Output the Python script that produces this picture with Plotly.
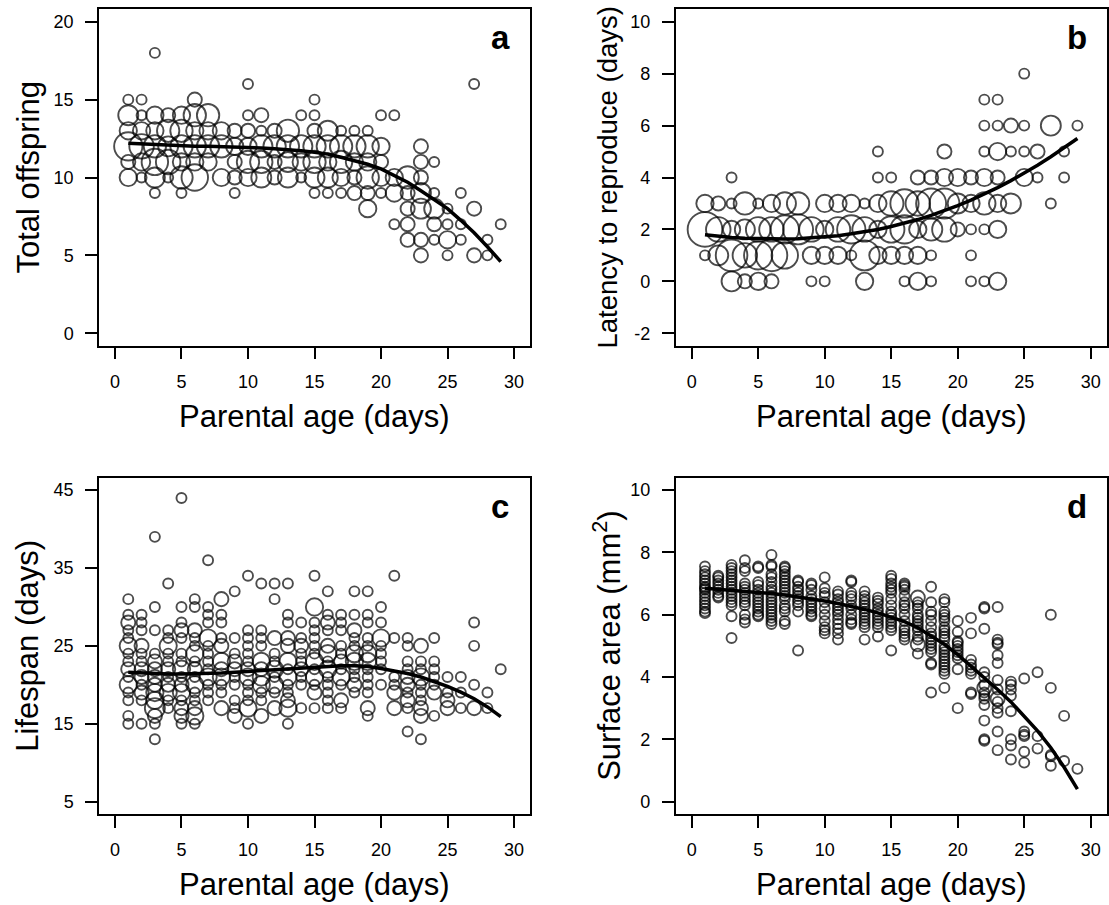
import math
import plotly.graph_objects as go

W, H = 1109, 905
FONT = "Liberation Sans, Arial, Helvetica, sans-serif"

# ---------------- data ----------------
days = list(range(1, 30))
x_ticks = [0, 5, 10, 15, 20, 25, 30]

# (parental age, value, number of individuals)
offspring_obs = [
    (1, 15, 1), (1, 14, 4), (1, 13, 3), (1, 12, 8), (1, 11, 2), (1, 10, 3),
    (2, 15, 1), (2, 14, 1), (2, 13, 3), (2, 12, 6), (2, 11, 3), (2, 10, 1),
    (3, 18, 1), (3, 14, 3), (3, 13, 3), (3, 12, 5), (3, 11, 7), (3, 10, 4), (3, 9, 1),
    (4, 14, 2), (4, 13, 5), (4, 12, 4), (4, 11, 6), (4, 10, 1),
    (5, 14, 3), (5, 13, 5), (5, 12, 5), (5, 11, 3), (5, 10, 5), (5, 9, 1),
    (6, 15, 2), (6, 14, 5), (6, 13, 3), (6, 12, 5), (6, 11, 3), (6, 10, 7),
    (7, 14, 5), (7, 13, 3), (7, 12, 5), (7, 11, 3),
    (8, 13, 3), (8, 12, 5), (8, 10, 3),
    (9, 13, 2), (9, 12, 3), (9, 11, 2), (9, 10, 2), (9, 9, 1),
    (10, 16, 1), (10, 14, 1), (10, 13, 2), (10, 12, 3), (10, 11, 5), (10, 10, 3),
    (11, 14, 2), (11, 13, 1), (11, 12, 5), (11, 11, 5), (11, 10, 4),
    (12, 13, 2), (12, 12, 5), (12, 11, 2), (12, 10, 2),
    (13, 13, 5), (13, 12, 5), (13, 11, 4), (13, 10, 4),
    (14, 14, 1), (14, 12, 5), (14, 11, 3), (14, 10, 1),
    (15, 15, 1), (15, 14, 1), (15, 13, 2), (15, 12, 5), (15, 11, 5), (15, 10, 4), (15, 9, 1),
    (16, 13, 4), (16, 12, 5), (16, 11, 3), (16, 10, 4), (16, 9, 1),
    (17, 13, 1), (17, 12, 5), (17, 11, 5), (17, 10, 3), (17, 9, 1),
    (18, 13, 1), (18, 12, 5), (18, 11, 3), (18, 10, 2), (18, 9, 2),
    (19, 13, 1), (19, 12, 5), (19, 11, 3), (19, 10, 5), (19, 9, 2), (19, 8, 3),
    (20, 14, 1), (20, 12, 3), (20, 11, 2), (20, 10, 3), (20, 9, 1),
    (21, 14, 1), (21, 10, 3), (21, 9, 3), (21, 7, 1),
    (22, 10, 5), (22, 9, 2), (22, 8, 2), (22, 7, 2), (22, 6, 2),
    (23, 12, 2), (23, 11, 2), (23, 10, 2), (23, 9, 4), (23, 8, 4), (23, 6, 2), (23, 5, 2),
    (24, 11, 1), (24, 9, 1), (24, 8, 4), (24, 7, 2), (24, 6, 1),
    (25, 8, 1), (25, 7, 1), (25, 6, 3), (25, 5, 1),
    (26, 9, 1), (26, 7, 1), (26, 6, 1),
    (27, 16, 1), (27, 8, 2), (27, 5, 2),
    (28, 6, 1), (28, 5, 1),
    (29, 7, 1),
]
offspring_fit = [12.2, 12.15, 12.1, 12.05, 12.02, 12.0, 12.0, 11.98, 11.97, 11.95,
                 11.9, 11.85, 11.8, 11.72, 11.62, 11.5, 11.3, 11.1, 10.85, 10.55,
                 10.15, 9.7, 9.15, 8.6, 8.0, 7.25, 6.45, 5.55, 4.6]

latency_obs = [
    (1, 3, 3), (1, 2, 12), (1, 1, 1),
    (2, 3, 2), (2, 2, 6), (2, 1, 4),
    (3, 4, 1), (3, 3, 1), (3, 2, 3), (3, 1, 10), (3, 0, 4),
    (4, 3, 5), (4, 2, 4), (4, 1, 6), (4, 0, 2),
    (5, 3, 1), (5, 2, 6), (5, 1, 8), (5, 0, 3),
    (6, 3, 3), (6, 2, 6), (6, 1, 10), (6, 0, 2),
    (7, 3, 5), (7, 2, 8), (7, 1, 7),
    (8, 3, 5), (8, 2, 9),
    (9, 2, 6), (9, 1, 3), (9, 0, 1),
    (10, 3, 3), (10, 2, 3), (10, 1, 3), (10, 0, 1),
    (11, 3, 3), (11, 2, 6), (11, 1, 3),
    (12, 3, 3), (12, 2, 8), (12, 1, 1),
    (13, 3, 1), (13, 2, 6), (13, 1, 9), (13, 0, 3),
    (14, 5, 1), (14, 4, 1), (14, 3, 3), (14, 2, 3), (14, 1, 3),
    (15, 4, 1), (15, 3, 6), (15, 2, 7), (15, 1, 3),
    (16, 3, 8), (16, 2, 8), (16, 1, 3), (16, 0, 1),
    (17, 4, 2), (17, 3, 6), (17, 2, 3), (17, 1, 3), (17, 0, 3),
    (18, 4, 2), (18, 3, 9), (18, 2, 5), (18, 1, 1), (18, 0, 1),
    (19, 5, 2), (19, 4, 3), (19, 3, 9), (19, 2, 6),
    (20, 4, 3), (20, 3, 4), (20, 2, 2),
    (21, 4, 2), (21, 3, 3), (21, 2, 1), (21, 1, 1), (21, 0, 1),
    (22, 7, 1), (22, 6, 1), (22, 5, 1), (22, 4, 3), (22, 3, 5), (22, 2, 1), (22, 0, 1),
    (23, 7, 1), (23, 6, 1), (23, 5, 3), (23, 4, 2), (23, 3, 3), (23, 2, 3), (23, 0, 3),
    (24, 6, 2), (24, 5, 1), (24, 3, 4),
    (25, 8, 1), (25, 6, 1), (25, 5, 1), (25, 4, 3),
    (26, 5, 2), (26, 4, 1),
    (27, 6, 4), (27, 3, 1),
    (28, 5, 1), (28, 4, 1),
    (29, 6, 1),
]
latency_fit = [1.79, 1.73, 1.69, 1.66, 1.64, 1.63, 1.63, 1.64, 1.67, 1.71,
               1.76, 1.83, 1.91, 2.0, 2.11, 2.24, 2.38, 2.54, 2.72, 2.92,
               3.13, 3.36, 3.61, 3.88, 4.17, 4.47, 4.8, 5.14, 5.5]

lifespan_obs = [
    (1, 31, 1), (1, 29, 1), (1, 28, 2), (1, 27, 1), (1, 26, 1), (1, 25, 3), (1, 24, 1), (1, 23, 1),
    (1, 22, 2), (1, 21, 1), (1, 20, 3), (1, 19, 1), (1, 18, 1), (1, 16, 1), (1, 15, 1),
    (2, 29, 1), (2, 28, 1), (2, 27, 1), (2, 25, 2), (2, 24, 1), (2, 23, 1), (2, 22, 2), (2, 21, 2),
    (2, 20, 1), (2, 19, 2), (2, 18, 1), (2, 15, 1),
    (3, 39, 1), (3, 30, 1), (3, 27, 1), (3, 24, 1), (3, 23, 2), (3, 22, 2), (3, 21, 2), (3, 20, 2),
    (3, 19, 3), (3, 18, 3), (3, 17, 4), (3, 16, 2), (3, 15, 1), (3, 13, 1),
    (4, 33, 1), (4, 27, 1), (4, 26, 1), (4, 25, 3), (4, 24, 1), (4, 23, 1), (4, 22, 2), (4, 21, 1),
    (4, 20, 2), (4, 19, 3), (4, 18, 1), (4, 17, 1),
    (5, 44, 1), (5, 30, 1), (5, 28, 1), (5, 27, 2), (5, 26, 1), (5, 24, 1), (5, 23, 1), (5, 22, 3),
    (5, 21, 1), (5, 20, 2), (5, 19, 3), (5, 18, 1), (5, 17, 2), (5, 16, 2), (5, 15, 1),
    (6, 31, 1), (6, 30, 1), (6, 27, 2), (6, 26, 1), (6, 25, 1), (6, 24, 3), (6, 23, 1), (6, 22, 2),
    (6, 21, 1), (6, 20, 3), (6, 19, 1), (6, 18, 1), (6, 17, 2), (6, 16, 3), (6, 15, 1),
    (7, 36, 1), (7, 30, 1), (7, 29, 1), (7, 28, 1), (7, 26, 3), (7, 25, 1), (7, 24, 1), (7, 23, 1),
    (7, 22, 1), (7, 21, 3), (7, 20, 1), (7, 19, 1), (7, 18, 1),
    (8, 31, 2), (8, 29, 1), (8, 28, 1), (8, 26, 1), (8, 25, 2), (8, 23, 3), (8, 22, 2), (8, 21, 3),
    (8, 20, 1), (8, 19, 1), (8, 17, 2),
    (9, 32, 1), (9, 26, 1), (9, 24, 1), (9, 23, 2), (9, 22, 2), (9, 21, 1), (9, 20, 1), (9, 18, 1),
    (9, 17, 1), (9, 16, 2),
    (10, 34, 1), (10, 27, 1), (10, 26, 1), (10, 25, 1), (10, 24, 1), (10, 23, 1), (10, 22, 2),
    (10, 21, 3), (10, 20, 1), (10, 19, 1), (10, 18, 1), (10, 17, 3), (10, 15, 1),
    (11, 33, 1), (11, 27, 1), (11, 26, 1), (11, 25, 1), (11, 23, 3), (11, 22, 2), (11, 21, 3),
    (11, 20, 3), (11, 19, 1), (11, 18, 1), (11, 16, 2),
    (12, 33, 1), (12, 31, 1), (12, 26, 2), (12, 24, 1), (12, 23, 1), (12, 22, 3), (12, 21, 1),
    (12, 20, 3), (12, 19, 1), (12, 17, 2),
    (13, 33, 1), (13, 29, 1), (13, 28, 1), (13, 26, 2), (13, 25, 2), (13, 23, 3), (13, 22, 1),
    (13, 21, 3), (13, 20, 1), (13, 19, 1), (13, 18, 2), (13, 17, 3), (13, 15, 1),
    (14, 28, 1), (14, 26, 1), (14, 25, 2), (14, 24, 1), (14, 23, 1), (14, 22, 2), (14, 21, 1),
    (14, 20, 1), (14, 17, 1),
    (15, 34, 1), (15, 30, 3), (15, 28, 1), (15, 27, 1), (15, 26, 1), (15, 25, 1), (15, 24, 1),
    (15, 23, 3), (15, 22, 1), (15, 21, 3), (15, 20, 1), (15, 19, 2), (15, 17, 1),
    (16, 32, 1), (16, 29, 1), (16, 28, 2), (16, 27, 1), (16, 25, 2), (16, 24, 3), (16, 23, 1),
    (16, 22, 3), (16, 21, 1), (16, 20, 1), (16, 19, 1), (16, 18, 1), (16, 17, 1),
    (17, 29, 1), (17, 28, 1), (17, 27, 1), (17, 25, 1), (17, 24, 1), (17, 23, 2), (17, 22, 1),
    (17, 21, 3), (17, 20, 1), (17, 18, 2), (17, 17, 1),
    (18, 32, 1), (18, 29, 1), (18, 27, 2), (18, 26, 1), (18, 25, 1), (18, 24, 3), (18, 23, 3),
    (18, 22, 1), (18, 21, 1), (18, 20, 2), (18, 19, 1),
    (19, 32, 1), (19, 29, 1), (19, 28, 1), (19, 26, 1), (19, 25, 1), (19, 24, 3), (19, 23, 3),
    (19, 22, 1), (19, 21, 1), (19, 20, 1), (19, 19, 1), (19, 17, 2), (19, 16, 1),
    (20, 30, 1), (20, 28, 1), (20, 26, 3), (20, 25, 1), (20, 24, 1), (20, 23, 1), (20, 22, 1), (20, 20, 1),
    (21, 34, 1), (21, 26, 1), (21, 21, 1), (21, 20, 1), (21, 19, 2), (21, 17, 2),
    (22, 26, 1), (22, 25, 1), (22, 23, 1), (22, 22, 1), (22, 21, 2), (22, 20, 2), (22, 19, 1),
    (22, 18, 2), (22, 17, 1), (22, 14, 1),
    (23, 25, 2), (23, 23, 1), (23, 22, 1), (23, 21, 3), (23, 20, 1), (23, 19, 1), (23, 18, 1),
    (23, 17, 2), (23, 16, 2), (23, 13, 1),
    (24, 26, 1), (24, 23, 1), (24, 22, 1), (24, 21, 1), (24, 20, 1), (24, 19, 2), (24, 16, 1),
    (25, 21, 1), (25, 19, 1), (25, 18, 2), (25, 17, 2),
    (26, 21, 1), (26, 19, 1), (26, 17, 1),
    (27, 28, 1), (27, 25, 1), (27, 20, 1), (27, 17, 2),
    (28, 19, 1), (28, 17, 1),
    (29, 22, 1),
]
lifespan_fit = [21.6, 21.5, 21.45, 21.4, 21.4, 21.4, 21.45, 21.5, 21.6, 21.7,
                21.8, 21.95, 22.1, 22.2, 22.3, 22.4, 22.45, 22.45, 22.35, 22.1,
                21.8, 21.45, 21.0, 20.45, 19.8, 19.05, 18.2, 17.15, 15.9]

area_obs = [
    (1, 7.55, 1), (1, 7.4, 1), (1, 7.3, 1), (1, 7.2, 1), (1, 7.1, 1), (1, 7.0, 1), (1, 6.9, 1),
    (1, 6.85, 1), (1, 6.8, 1), (1, 6.7, 1), (1, 6.6, 1), (1, 6.5, 1), (1, 6.4, 1), (1, 6.3, 1),
    (1, 6.2, 1), (1, 6.1, 1), (1, 6.05, 1),
    (2, 7.25, 1), (2, 7.2, 1), (2, 7.1, 1), (2, 7.0, 1), (2, 6.9, 1), (2, 6.8, 1), (2, 6.7, 1),
    (2, 6.6, 1), (2, 6.55, 1),
    (3, 7.6, 1), (3, 7.5, 1), (3, 7.4, 1), (3, 7.3, 1), (3, 7.2, 1), (3, 7.1, 1), (3, 7.0, 1),
    (3, 6.9, 1), (3, 6.8, 1), (3, 6.7, 1), (3, 6.6, 1), (3, 6.5, 1), (3, 6.4, 1), (3, 6.3, 1),
    (3, 5.95, 1), (3, 5.25, 1),
    (4, 7.75, 1), (4, 7.5, 1), (4, 7.4, 1), (4, 7.0, 1), (4, 6.9, 1), (4, 6.8, 1), (4, 6.7, 1),
    (4, 6.6, 1), (4, 6.5, 1), (4, 6.4, 1), (4, 6.3, 1), (4, 6.0, 1), (4, 5.85, 1), (4, 5.75, 1),
    (5, 7.55, 1), (5, 7.5, 1), (5, 7.05, 1), (5, 6.95, 1), (5, 6.8, 1), (5, 6.7, 1), (5, 6.6, 1),
    (5, 6.5, 1), (5, 6.4, 1), (5, 6.3, 1), (5, 6.2, 1), (5, 6.1, 1), (5, 6.0, 1), (5, 5.95, 1),
    (6, 7.92, 1), (6, 7.6, 1), (6, 7.55, 1), (6, 7.3, 1), (6, 7.2, 1), (6, 7.05, 1), (6, 6.9, 1),
    (6, 6.8, 1), (6, 6.7, 1), (6, 6.6, 1), (6, 6.5, 1), (6, 6.4, 1), (6, 6.3, 1), (6, 6.2, 1),
    (6, 6.1, 1), (6, 6.0, 1), (6, 5.9, 1), (6, 5.8, 1), (6, 5.7, 1),
    (7, 7.55, 1), (7, 7.5, 1), (7, 7.4, 1), (7, 7.3, 1), (7, 7.2, 1), (7, 7.1, 1), (7, 7.0, 1),
    (7, 6.9, 1), (7, 6.8, 1), (7, 6.7, 1), (7, 6.6, 1), (7, 6.5, 1), (7, 6.3, 1), (7, 6.2, 1),
    (7, 6.1, 1), (7, 5.8, 1), (7, 5.7, 1),
    (8, 7.1, 1), (8, 7.05, 1), (8, 6.9, 1), (8, 6.8, 1), (8, 6.7, 1), (8, 6.6, 1), (8, 6.5, 1),
    (8, 6.4, 1), (8, 6.3, 1), (8, 6.1, 1), (8, 4.85, 1),
    (9, 7.0, 1), (9, 6.95, 1), (9, 6.8, 1), (9, 6.6, 1), (9, 6.5, 1), (9, 6.4, 1), (9, 6.3, 1),
    (9, 6.2, 1), (9, 6.1, 1), (9, 6.0, 1), (9, 5.95, 1),
    (10, 7.2, 1), (10, 6.85, 1), (10, 6.7, 1), (10, 6.6, 1), (10, 6.4, 1), (10, 6.2, 1),
    (10, 6.0, 1), (10, 5.8, 1), (10, 5.6, 1), (10, 5.5, 1), (10, 5.4, 1),
    (11, 6.75, 1), (11, 6.65, 1), (11, 6.5, 1), (11, 6.4, 1), (11, 6.3, 1), (11, 6.2, 1),
    (11, 6.1, 1), (11, 6.0, 1), (11, 5.85, 1), (11, 5.7, 1), (11, 5.55, 1), (11, 5.4, 1), (11, 5.2, 1),
    (12, 7.1, 1), (12, 7.05, 1), (12, 6.7, 1), (12, 6.6, 1), (12, 6.5, 1), (12, 6.3, 1),
    (12, 6.2, 1), (12, 6.0, 1), (12, 5.85, 1), (12, 5.75, 1), (12, 5.7, 1),
    (13, 6.75, 1), (13, 6.6, 1), (13, 6.5, 1), (13, 6.4, 1), (13, 6.3, 1), (13, 6.2, 1),
    (13, 6.1, 1), (13, 6.0, 1), (13, 5.9, 1), (13, 5.8, 1), (13, 5.7, 1), (13, 5.6, 1), (13, 5.2, 1),
    (14, 6.55, 1), (14, 6.45, 1), (14, 6.35, 1), (14, 6.2, 1), (14, 6.1, 1), (14, 6.0, 1),
    (14, 5.9, 1), (14, 5.8, 1), (14, 5.7, 1), (14, 5.6, 1), (14, 5.3, 1),
    (15, 7.25, 1), (15, 7.15, 1), (15, 7.0, 1), (15, 6.9, 1), (15, 6.8, 1), (15, 6.7, 1),
    (15, 6.5, 1), (15, 6.3, 1), (15, 6.1, 1), (15, 6.0, 1), (15, 5.9, 1), (15, 5.8, 1),
    (15, 5.7, 1), (15, 5.6, 1), (15, 5.5, 1), (15, 4.85, 1),
    (16, 7.0, 1), (16, 6.95, 1), (16, 6.9, 1), (16, 6.8, 1), (16, 6.6, 1), (16, 6.4, 1),
    (16, 6.3, 1), (16, 6.2, 1), (16, 6.0, 1), (16, 5.8, 1), (16, 5.6, 1), (16, 5.5, 1),
    (16, 5.4, 1), (16, 5.3, 1), (16, 5.2, 1),
    (17, 6.55, 2), (17, 6.4, 1), (17, 6.3, 1), (17, 6.2, 1), (17, 6.0, 1), (17, 5.9, 1),
    (17, 5.8, 1), (17, 5.7, 1), (17, 5.6, 1), (17, 5.5, 1), (17, 5.3, 1), (17, 5.2, 1),
    (17, 5.05, 2), (17, 4.75, 1),
    (18, 6.9, 1), (18, 6.4, 1), (18, 6.1, 1), (18, 6.0, 1), (18, 5.8, 1), (18, 5.6, 1),
    (18, 5.4, 1), (18, 5.3, 1), (18, 5.2, 1), (18, 5.1, 1), (18, 5.0, 1), (18, 4.9, 1),
    (18, 4.8, 1), (18, 4.45, 1), (18, 4.4, 1), (18, 3.5, 1),
    (19, 6.5, 1), (19, 6.4, 1), (19, 6.1, 1), (19, 6.0, 1), (19, 5.9, 1), (19, 5.8, 1),
    (19, 5.6, 1), (19, 5.5, 1), (19, 5.4, 1), (19, 5.3, 1), (19, 5.2, 1), (19, 5.0, 1),
    (19, 4.9, 1), (19, 4.8, 1), (19, 4.7, 1), (19, 4.6, 1), (19, 4.5, 1), (19, 4.4, 1),
    (19, 4.3, 1), (19, 4.2, 1), (19, 4.1, 1), (19, 3.65, 1),
    (20, 5.8, 1), (20, 5.45, 1), (20, 5.15, 1), (20, 5.1, 1), (20, 5.0, 1), (20, 4.9, 1),
    (20, 4.8, 1), (20, 4.7, 1), (20, 4.6, 1), (20, 4.25, 1), (20, 3.0, 1),
    (21, 5.9, 1), (21, 5.4, 1), (21, 4.55, 1), (21, 4.4, 1), (21, 4.3, 1), (21, 4.2, 1),
    (21, 4.1, 1), (21, 3.5, 1), (21, 3.45, 1),
    (22, 6.25, 1), (22, 6.2, 1), (22, 5.55, 1), (22, 4.15, 1), (22, 4.0, 1), (22, 3.75, 1),
    (22, 3.65, 2), (22, 3.5, 1), (22, 3.4, 1), (22, 3.3, 1), (22, 3.1, 1), (22, 2.6, 1),
    (22, 2.0, 1), (22, 1.95, 1),
    (23, 6.25, 1), (23, 5.2, 1), (23, 5.1, 1), (23, 5.05, 1), (23, 4.7, 1), (23, 4.45, 1),
    (23, 3.9, 1), (23, 3.6, 1), (23, 3.3, 2), (23, 3.2, 1), (23, 3.0, 1), (23, 2.85, 1),
    (23, 2.25, 1), (23, 1.65, 1),
    (24, 3.85, 1), (24, 3.75, 1), (24, 3.6, 1), (24, 3.4, 1), (24, 2.9, 1), (24, 2.0, 1),
    (24, 1.8, 1), (24, 1.35, 1),
    (25, 3.95, 1), (25, 2.25, 1), (25, 2.15, 1), (25, 2.1, 1), (25, 1.6, 1), (25, 1.25, 1),
    (26, 4.15, 1), (26, 2.1, 1), (26, 1.7, 1),
    (27, 6.0, 1), (27, 3.65, 1), (27, 1.5, 1), (27, 1.45, 1), (27, 1.15, 1),
    (28, 2.75, 1), (28, 1.3, 1),
    (29, 1.05, 1),
]
area_fit = [6.85, 6.82, 6.79, 6.76, 6.72, 6.68, 6.63, 6.57, 6.51, 6.44,
            6.36, 6.27, 6.17, 6.06, 5.93, 5.78, 5.58, 5.33, 5.05, 4.72,
            4.35, 3.98, 3.6, 3.2, 2.75, 2.27, 1.73, 1.1, 0.4]

panels = [
    dict(obs=offspring_obs, fit=offspring_fit, yticks=[0, 5, 10, 15, 20], yrange=[-0.8, 20.8],
         ytitle="Total offspring", ytitle_size=31, letter="a"),
    dict(obs=latency_obs, fit=latency_fit, yticks=[-2, 0, 2, 4, 6, 8, 10], yrange=[-2.48, 10.48],
         ytitle="Latency to reproduce (days)", ytitle_size=27.5, letter="b"),
    dict(obs=lifespan_obs, fit=lifespan_fit, yticks=[5, 15, 25, 35, 45], yrange=[3.4, 46.6],
         ytitle="Lifespan (days)", ytitle_size=31, letter="c"),
    dict(obs=area_obs, fit=area_fit, yticks=[0, 2, 4, 6, 8, 10], yrange=[-0.4, 10.4],
         ytitle="Surface area (mm<sup>2</sup>)", ytitle_size=31, letter="d"),
]

# ---------------- layout geometry (pixels) ----------------
col_px = [(99, 530), (675.7, 1106.7)]
row_px = [(9.3, 345.7), (477.7, 814)]

fig = go.Figure()
annotations = []
layout = dict(
    width=W, height=H, margin=dict(l=0, r=0, t=0, b=0),
    paper_bgcolor="white", plot_bgcolor="white", showlegend=False,
    font=dict(family=FONT, color="black"),
)

for i, p in enumerate(panels):
    r, c = divmod(i, 2)
    k = "" if i == 0 else str(i + 1)
    x0, x1 = col_px[c]
    y0, y1 = row_px[r]
    xd = [x0 / W, x1 / W]
    yd = [1 - y1 / H, 1 - y0 / H]
    common = dict(showline=True, linecolor="black", linewidth=1.5, mirror=True,
                  ticks="outside", ticklen=12, tickwidth=1.5, tickcolor="black",
                  showgrid=False, zeroline=False,
                  tickfont=dict(size=18, family=FONT, color="black"))
    layout["xaxis" + k] = dict(domain=xd, range=[-1.2, 31.2], tickvals=x_ticks,
                               ticktext=[str(v) for v in x_ticks],
                               anchor="y" + k, ticklabelstandoff=7, **common)
    layout["yaxis" + k] = dict(domain=yd, range=p["yrange"], tickvals=p["yticks"],
                               ticktext=[str(v) for v in p["yticks"]],
                               anchor="x" + k, ticklabelstandoff=8, **common)

    xs = [o[0] for o in p["obs"]]
    ys = [o[1] for o in p["obs"]]
    sizes = [10 * math.sqrt(o[2]) for o in p["obs"]]
    fig.add_trace(go.Scatter(
        x=xs, y=ys, mode="markers", xaxis="x" + k, yaxis="y" + k, cliponaxis=True,
        marker=dict(symbol="circle-open", size=sizes, color="black", line=dict(width=1.9)),
        hoverinfo="skip"))
    fig.add_trace(go.Scatter(
        x=days, y=p["fit"], mode="lines", xaxis="x" + k, yaxis="y" + k,
        line=dict(color="black", width=3.5), hoverinfo="skip"))

    # axis titles
    annotations.append(dict(
        text=p["ytitle"], xref="paper", yref="paper",
        x=(28 if c == 0 else 607) / W, y=1 - (y0 + y1) / 2 / H,
        textangle=-90, showarrow=False, xanchor="center", yanchor="middle",
        font=dict(size=p["ytitle_size"], family=FONT, color="black")))
    annotations.append(dict(
        text="Parental age (days)", xref="paper", yref="paper",
        x=(x0 + x1) / 2 / W, y=1 - (416 if r == 0 else 884) / H,
        showarrow=False, xanchor="center", yanchor="middle",
        font=dict(size=31, family=FONT, color="black")))
    # panel letter
    annotations.append(dict(
        text="<b>%s</b>" % p["letter"], xref="x%s domain" % k, yref="y%s domain" % k,
        x=0.931, y=0.915, showarrow=False, xanchor="center", yanchor="middle",
        font=dict(size=33, family=FONT, color="black")))

layout["annotations"] = annotations
fig.update_layout(**layout)
fig.write_html("out.html")
